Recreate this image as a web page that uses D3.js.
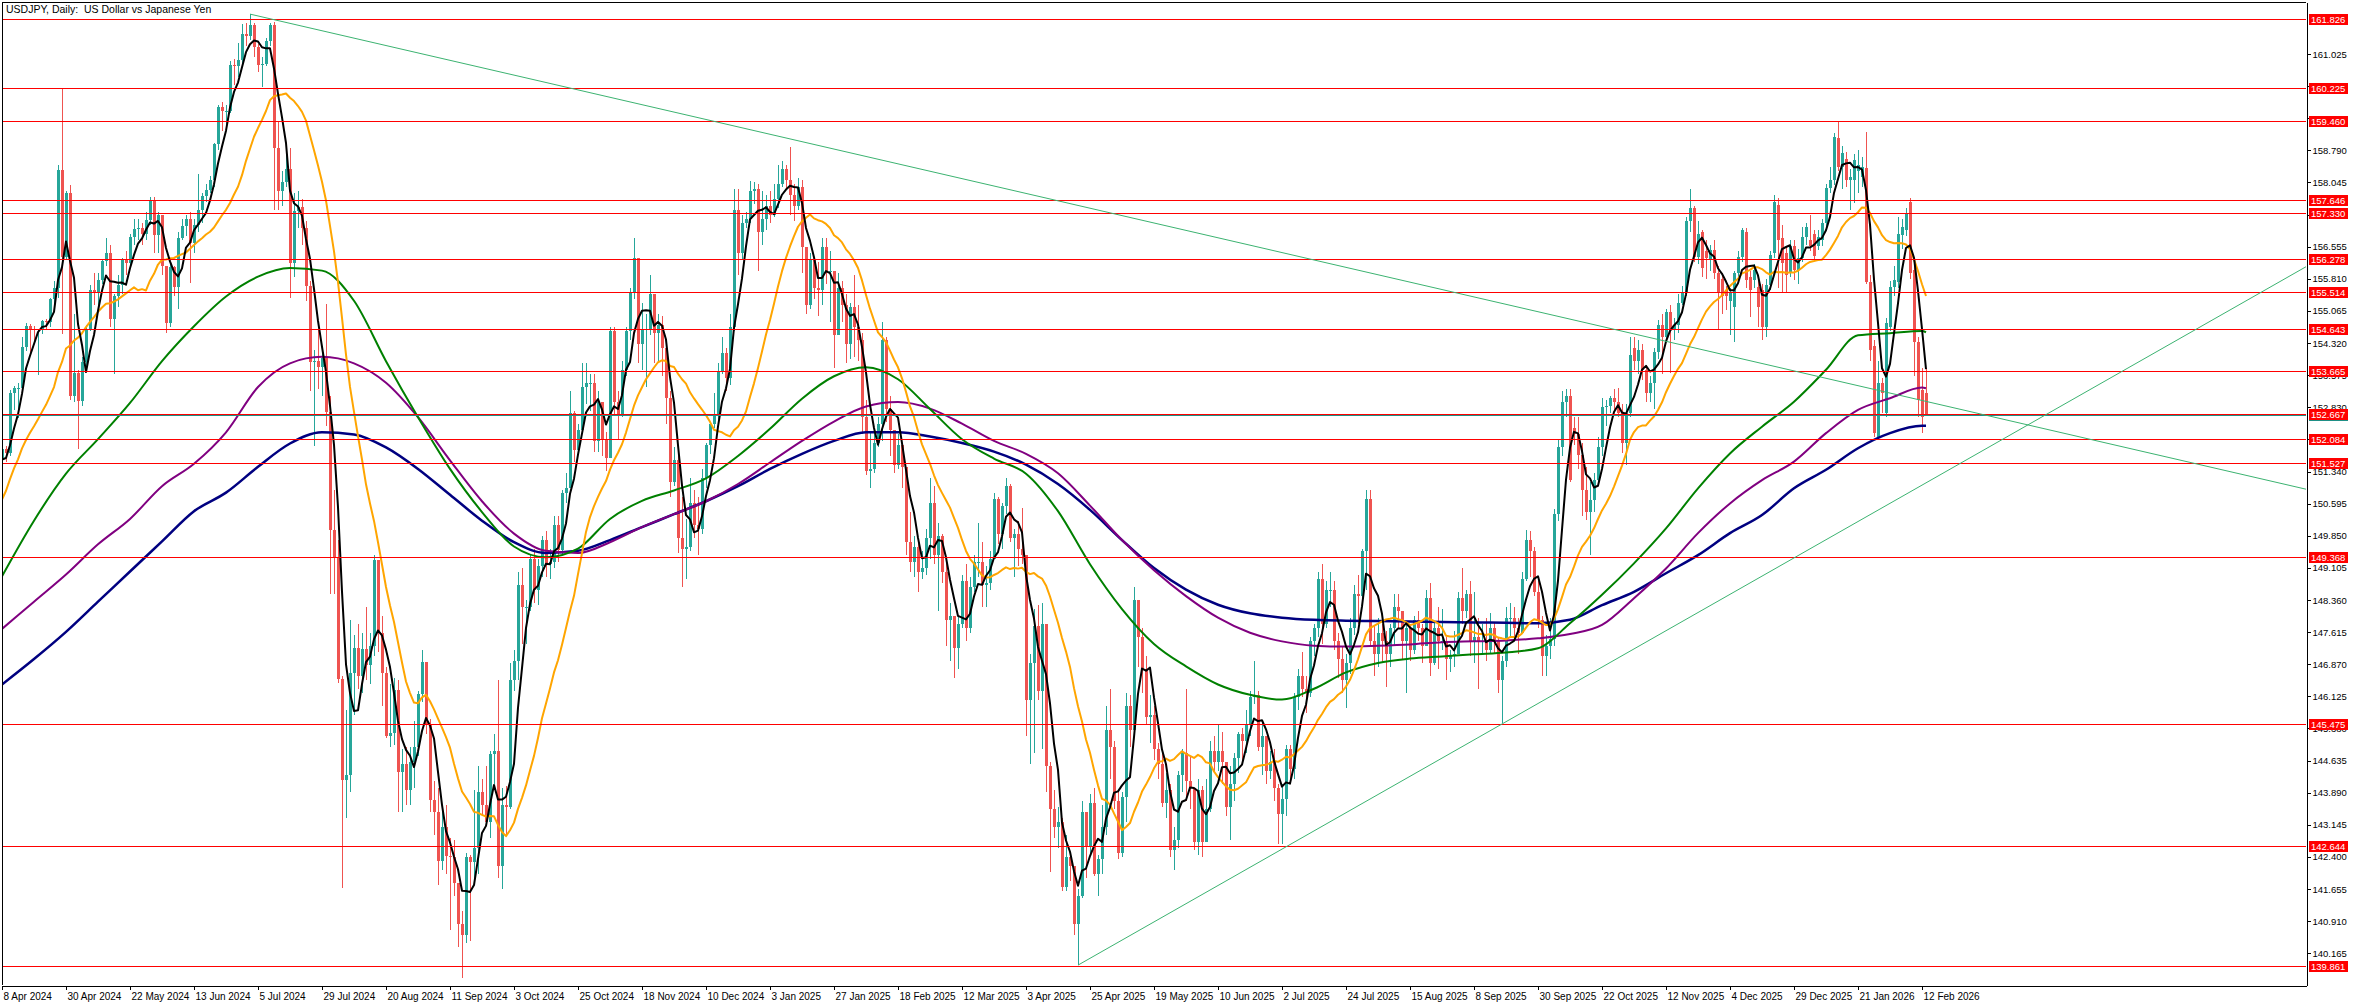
<!DOCTYPE html>
<html><head><meta charset="utf-8">
<script src="https://cdn.jsdelivr.net/npm/d3@7"></script>
<style>
body{margin:0;background:#fff;}
svg{display:block;}
text{font-family:"Liberation Sans",Arial,sans-serif;}
</style>
</head><body>
<svg id="chart" width="2359" height="1006"></svg>
<script>
// ---- data ----
const title = "USDJPY, Daily:  US Dollar vs Japanese Yen";
const preClose = [147.68,147.76,148.33,149.04,149.13,150.87,151.27,151.59,151.43,151.40,151.55,151.32,151.36,151.35,151.65,151.57,151.68,151.34,151.62];

const open = [
151.62,151.86,151.77,153.16,153.27,153.27,154.23,154.71,154.65,154.63,154.64,154.83,154.81,155.35,155.59,158.33,
156.32,157.80,153.10,153.62,152.97,153.89,154.65,155.55,155.47,155.78,156.22,156.42,154.88,155.40,155.67,156.25,
156.17,156.78,156.96,156.98,156.84,157.18,157.63,156.83,157.28,156.10,154.78,156.08,155.62,156.75,157.03,157.20,
156.65,157.05,157.40,157.72,157.87,158.10,158.93,159.80,159.70,159.70,160.78,160.75,160.88,161.48,161.45,161.70,
161.18,160.77,160.80,161.33,161.70,158.85,157.85,158.05,158.35,156.18,157.38,157.48,156.98,155.65,153.88,153.90,
153.76,153.98,152.73,149.98,149.35,146.53,144.18,144.30,146.67,147.25,146.60,147.23,146.85,147.30,149.28,147.60,
146.66,145.20,145.28,146.27,144.36,144.55,143.95,144.60,144.96,146.17,146.93,145.46,143.73,143.45,142.30,143.10,
142.42,142.40,141.80,140.85,140.60,142.40,142.28,142.60,143.90,143.60,143.22,144.78,144.85,142.20,143.60,143.55,
146.50,146.95,148.70,148.20,148.20,149.30,148.60,149.15,149.75,149.20,149.25,150.10,149.52,150.85,150.95,152.70,
151.85,152.30,153.30,153.40,153.40,152.05,152.95,152.10,151.65,154.60,152.95,152.65,153.70,154.60,155.50,156.30,
154.30,154.65,154.65,155.45,154.55,154.75,154.20,153.05,151.10,151.60,149.80,149.55,149.60,150.60,150.10,150.00,
151.20,151.95,152.45,152.65,153.65,154.10,153.50,154.70,157.40,156.40,157.10,157.20,157.85,157.90,156.90,157.20,
157.50,157.30,157.65,158.00,158.35,158.10,157.75,157.50,157.95,156.55,155.20,156.25,155.60,155.55,156.55,156.00,
156.00,154.50,155.60,155.20,154.30,155.15,154.70,154.40,152.60,151.35,151.40,152.00,152.45,154.40,152.80,152.30,
151.50,151.95,151.45,149.70,149.25,149.60,149.00,149.10,149.80,150.60,149.40,149.85,149.00,147.90,148.00,147.25,
147.80,148.80,147.70,148.65,149.25,149.25,148.70,148.75,149.30,150.70,149.90,150.55,151.00,149.80,149.90,149.55,
149.40,146.05,146.90,147.75,146.25,147.80,144.50,143.50,143.10,143.20,141.70,142.40,142.20,140.85,141.50,143.45,
142.65,143.65,142.00,142.35,143.10,145.35,144.95,143.70,142.50,143.80,145.90,145.35,148.35,147.50,146.75,145.65,
145.70,144.90,144.55,143.65,143.95,142.55,142.80,144.30,144.80,144.15,144.00,142.75,143.95,142.75,143.50,144.85,
144.60,144.85,144.60,143.55,144.10,144.70,145.25,145.10,145.45,146.10,146.15,144.95,145.20,144.40,144.60,144.00,
143.40,143.75,144.90,144.45,146.10,146.60,146.30,146.20,147.40,147.70,148.85,147.80,148.60,148.60,147.40,147.00,
146.50,146.90,147.70,148.50,148.45,149.50,150.70,147.40,147.10,147.60,147.40,147.10,147.70,148.20,148.10,147.40,
147.70,147.20,147.90,147.70,147.30,148.40,146.90,147.70,147.40,147.40,147.00,147.05,147.10,148.40,148.10,148.50,
147.40,147.50,147.40,147.40,147.20,147.70,147.40,146.50,146.95,147.95,147.95,147.70,147.60,148.85,149.75,149.50,
148.55,147.90,147.05,147.30,147.45,150.35,151.90,152.95,153.10,152.35,152.20,151.72,150.90,150.40,150.68,151.15,
151.92,152.84,152.85,153.05,152.95,152.70,152.00,152.70,154.20,153.90,154.15,153.70,153.15,153.40,154.12,154.75,
154.47,155.05,154.62,154.75,155.25,155.50,157.15,157.45,156.32,156.90,156.45,156.25,156.48,155.95,155.80,155.55,
155.30,155.16,155.94,156.32,156.90,155.86,155.78,155.63,155.55,154.70,155.66,156.40,157.52,156.75,156.40,155.94,
156.56,156.02,156.29,156.79,156.71,156.86,156.56,156.71,157.10,157.91,158.10,159.07,158.41,158.60,158.10,158.10,
158.30,158.18,158.37,155.74,154.24,152.15,153.39,152.69,154.70,155.63,155.74,156.83,156.94,157.60,156.01,154.35,
153.23,153.15];

const high = [
151.95,151.94,153.24,153.32,153.39,154.45,154.79,154.77,154.72,154.65,154.86,154.88,155.37,155.75,158.44,160.21,
157.84,157.99,155.00,153.70,154.00,154.75,155.67,155.95,155.95,156.26,156.75,156.60,155.45,155.90,156.30,156.45,
156.85,157.20,157.19,157.10,157.35,157.70,157.70,157.35,157.30,156.10,156.20,156.10,156.90,157.20,157.30,157.35,
157.20,158.25,157.80,158.00,158.20,158.95,159.85,159.90,159.85,160.87,160.90,161.28,161.72,161.75,161.95,161.75,
161.25,160.95,161.40,161.75,161.76,159.45,158.30,158.85,158.85,157.80,157.85,157.65,157.15,155.75,154.15,154.65,
154.20,155.22,153.10,150.90,149.75,146.60,145.80,147.90,147.55,147.80,147.60,148.20,147.60,149.40,149.10,148.00,
146.80,146.40,146.55,146.50,144.90,144.95,144.95,145.55,146.25,147.20,146.90,145.60,144.15,144.00,143.50,143.60,
142.85,142.80,141.80,141.15,142.50,142.45,143.95,144.50,144.20,144.50,144.85,145.25,146.50,144.00,144.05,146.90,
147.20,149.00,149.10,148.35,149.40,149.55,149.30,149.85,149.95,149.55,150.30,150.30,150.90,151.30,153.20,152.75,
152.45,153.85,153.85,153.60,153.60,153.20,152.85,152.25,154.70,154.70,153.20,153.90,154.70,155.60,156.75,156.30,
155.25,155.00,155.90,155.40,155.00,154.95,154.35,153.20,151.90,151.70,150.75,150.25,151.20,150.90,150.75,151.40,
152.00,152.50,153.15,153.85,154.45,154.20,155.00,157.90,157.90,157.30,157.35,158.08,158.05,158.00,157.85,157.75,
157.85,158.00,158.45,158.55,158.45,158.87,158.00,158.15,158.10,156.50,156.40,156.30,156.20,156.75,156.75,156.45,
155.95,155.95,155.75,155.45,155.25,155.90,155.20,154.55,153.00,152.25,152.30,152.60,154.80,154.45,153.10,152.30,
152.20,152.00,151.40,150.40,149.85,149.75,149.50,150.00,151.20,151.00,150.15,149.90,149.25,148.30,147.95,148.00,
148.95,149.20,148.90,149.40,150.15,149.70,149.15,149.50,150.85,150.75,150.60,151.20,151.05,150.00,150.20,150.50,
149.30,147.10,148.15,148.25,148.30,147.80,144.60,143.95,143.55,143.30,142.90,142.45,142.10,141.65,143.70,143.25,
143.85,144.00,142.45,143.60,145.90,146.30,145.10,143.90,143.90,146.20,146.15,148.65,148.30,147.70,147.05,146.15,
145.90,145.05,144.90,144.35,144.10,143.10,144.40,144.90,146.30,144.75,143.95,144.20,144.05,144.20,145.10,145.20,
145.45,145.30,144.60,144.50,144.80,145.30,145.40,145.80,146.25,146.95,146.25,145.50,145.20,144.85,144.90,144.10,
144.10,145.00,145.00,146.20,146.75,147.15,146.60,147.50,147.80,149.00,149.20,148.80,149.00,148.80,147.60,147.30,
147.10,147.95,148.70,148.95,149.55,150.90,150.90,147.75,147.95,147.80,147.65,147.80,148.50,148.50,148.10,147.80,
147.75,148.00,148.10,147.80,148.60,148.75,147.85,148.20,148.15,147.50,147.20,147.65,148.55,149.10,148.60,148.80,
148.55,147.95,147.80,147.95,148.05,147.85,147.50,147.05,148.20,148.30,148.20,147.95,149.00,149.98,149.95,149.60,
148.80,148.00,147.55,147.95,150.47,152.10,153.20,153.25,153.25,152.60,152.60,152.00,151.45,151.10,151.30,152.15,
153.05,153.00,153.10,153.25,153.27,152.90,152.90,154.45,154.45,154.40,154.30,153.80,153.55,154.20,154.85,155.00,
155.10,155.20,154.90,155.45,155.65,157.25,157.90,157.50,157.15,156.95,156.70,156.60,156.70,156.10,155.95,155.65,
155.60,156.00,156.45,157.00,157.00,156.00,156.15,155.75,155.70,155.80,156.45,157.75,157.68,157.06,156.56,156.70,
156.70,156.50,157.02,157.10,157.29,156.95,156.94,157.20,158.00,158.40,159.19,159.46,158.90,158.75,158.35,158.70,
158.80,158.64,159.22,155.90,154.40,153.90,153.50,154.90,155.75,156.10,157.25,157.20,157.45,157.68,156.10,154.45,
153.75,153.75];

const low = [
151.60,151.56,151.69,152.76,152.59,153.20,154.13,154.12,154.29,153.59,154.52,154.62,154.69,155.10,155.37,154.54,
156.24,153.00,152.95,151.86,152.85,153.75,154.60,155.20,155.20,155.70,156.10,154.70,153.60,155.15,155.45,155.90,
156.05,156.60,156.70,156.60,156.70,157.05,156.40,156.40,155.90,154.55,154.70,155.40,155.10,156.70,156.80,155.72,
156.40,156.90,157.10,157.60,157.80,157.95,158.80,159.25,159.40,159.65,160.30,160.50,160.80,161.20,161.35,160.95,
160.60,160.25,160.75,161.20,157.40,157.40,157.50,157.95,155.37,155.85,157.00,156.60,155.30,153.20,151.94,153.25,
153.10,152.40,148.50,148.50,146.43,141.68,143.30,143.90,145.70,146.30,146.20,146.50,146.40,147.05,147.15,145.90,
145.15,144.95,145.00,143.45,143.45,143.60,143.60,144.00,144.75,146.00,145.25,143.45,142.90,141.75,142.10,142.00,
140.70,141.50,140.30,139.58,140.40,140.45,141.80,142.00,143.35,143.20,142.85,144.10,141.90,141.65,142.90,143.50,
146.25,146.50,147.35,147.35,148.10,148.30,148.25,148.90,148.90,148.85,149.10,149.25,149.40,150.60,150.95,151.55,
151.75,152.80,152.90,152.75,151.80,151.80,151.70,151.35,151.75,152.65,152.10,152.60,153.55,154.40,155.35,153.85,
153.70,153.30,154.50,153.85,153.90,153.55,152.45,150.75,151.00,149.45,148.65,148.85,149.50,149.80,149.40,149.90,
150.95,151.75,152.35,152.50,153.60,153.20,153.35,154.60,155.90,156.25,157.00,157.10,157.55,156.00,156.60,156.95,
157.10,157.25,157.45,157.95,157.90,157.30,157.15,157.40,155.95,155.00,155.10,155.35,154.95,155.20,155.70,154.80,
153.75,154.50,154.80,153.85,153.95,154.00,153.90,152.20,151.25,150.95,151.30,151.90,152.05,152.50,151.70,151.30,
151.40,150.95,149.40,149.00,148.90,148.55,148.85,148.95,149.30,149.20,148.10,148.75,147.30,146.95,146.55,146.75,
147.70,147.40,147.60,148.55,148.90,148.20,148.20,148.60,149.30,149.65,149.55,150.35,149.70,148.90,149.15,149.20,
145.20,144.55,144.80,146.05,144.90,143.90,142.05,142.85,142.60,141.60,141.60,141.85,140.60,139.89,141.45,141.90,
142.50,141.95,141.50,142.00,142.90,144.20,143.50,142.35,142.40,143.20,144.95,145.75,146.80,146.20,145.45,145.05,
144.65,144.20,143.55,143.30,142.40,142.10,142.60,143.90,143.70,143.50,142.55,142.45,142.40,142.75,143.45,144.35,
144.40,144.10,143.35,142.80,143.70,144.35,144.60,144.80,145.20,145.95,144.85,144.30,144.10,144.20,143.70,142.70,
142.70,143.35,144.20,144.20,145.80,146.10,145.75,146.10,147.05,147.50,147.35,147.70,148.20,147.20,146.55,146.20,
145.85,146.65,147.55,147.80,148.20,148.60,147.30,146.60,146.80,146.90,146.35,146.80,147.30,147.70,147.00,146.20,
146.95,147.10,147.40,146.90,147.30,146.60,146.85,146.75,147.20,146.50,146.70,146.80,147.10,147.80,147.95,147.05,
146.90,146.30,147.10,146.95,147.10,147.10,146.20,145.50,146.80,147.50,147.45,147.10,147.60,148.80,148.90,148.45,
147.70,146.60,146.60,147.00,147.30,150.20,151.70,152.60,151.10,151.95,151.40,150.30,150.22,149.40,150.40,151.00,
151.70,152.40,152.70,152.75,152.60,151.77,151.50,152.60,153.70,153.60,153.46,152.95,152.95,152.80,153.95,153.60,
154.40,153.62,154.40,154.55,155.20,155.40,156.90,156.20,156.15,155.85,155.80,156.00,155.80,154.65,155.00,155.09,
154.51,154.35,155.80,156.20,155.60,154.93,155.60,154.70,154.39,154.47,155.55,156.30,155.60,155.51,155.50,155.85,
155.78,155.70,156.20,156.60,156.45,156.25,156.48,156.56,157.00,157.80,157.98,158.30,157.90,157.95,157.41,157.56,
157.80,157.95,155.70,153.90,152.15,152.10,152.69,152.60,154.60,155.40,155.60,156.50,156.80,155.80,153.55,152.61,
152.23,152.62];

const close = [
151.86,151.77,153.16,153.27,153.27,154.23,154.71,154.65,154.63,154.64,154.83,154.81,155.35,155.59,158.33,156.32,
157.80,153.10,153.62,152.97,153.89,154.65,155.55,155.47,155.78,156.22,156.42,154.88,155.40,155.67,156.25,156.17,
156.78,156.96,156.98,156.84,157.18,157.63,156.83,157.28,156.10,154.78,156.08,155.62,156.75,157.03,157.20,156.65,
157.05,157.40,157.72,157.87,158.10,158.93,159.80,159.70,159.70,160.78,160.75,160.88,161.48,161.45,161.70,161.18,
160.77,160.80,161.33,161.70,158.85,157.85,158.05,158.35,156.18,157.38,157.48,156.98,155.65,153.88,153.90,153.76,
153.98,152.73,149.98,149.35,146.53,144.18,144.30,146.67,147.25,146.60,147.23,146.85,147.30,149.28,147.60,146.66,
145.20,145.28,146.27,144.36,144.55,143.95,144.60,144.96,146.17,146.93,145.46,143.73,143.45,142.30,143.10,142.42,
142.40,141.80,140.85,140.60,142.40,142.28,142.60,143.90,143.60,143.22,144.78,144.85,142.20,143.60,143.55,146.50,
146.95,148.70,148.20,148.20,149.30,148.60,149.15,149.75,149.20,149.25,150.10,149.52,150.85,150.95,152.70,151.85,
152.30,153.30,153.40,153.40,152.05,152.95,152.10,151.65,154.60,152.95,152.65,153.70,154.60,155.50,156.30,154.30,
154.65,154.65,155.45,154.55,154.75,154.20,153.05,151.10,151.60,149.80,149.55,149.60,150.60,150.10,150.00,151.20,
151.95,152.45,152.65,153.65,154.10,153.50,154.70,157.40,156.40,157.10,157.20,157.85,157.90,156.90,157.20,157.50,
157.30,157.65,158.00,158.35,158.10,157.75,157.50,157.95,156.55,155.20,156.25,155.60,155.55,156.55,156.00,156.00,
154.50,155.60,155.20,154.30,155.15,154.70,154.40,152.60,151.35,151.40,152.00,152.45,154.40,152.80,152.30,151.50,
151.95,151.45,149.70,149.25,149.60,149.00,149.10,149.80,150.60,149.40,149.85,149.00,147.90,148.00,147.25,147.80,
148.80,147.70,148.65,149.25,149.25,148.70,148.75,149.30,150.70,149.90,150.55,151.00,149.80,149.90,149.55,149.40,
146.05,146.90,147.75,146.25,147.80,144.50,143.50,143.10,143.20,141.70,142.40,142.20,140.85,141.50,143.45,142.65,
143.65,142.00,142.35,143.10,145.35,144.95,143.70,142.50,143.80,145.90,145.35,148.35,147.50,146.75,145.65,145.70,
144.90,144.55,143.65,143.95,142.55,142.80,144.30,144.80,144.15,144.00,142.75,143.95,142.75,143.50,144.85,144.60,
144.85,144.60,143.55,144.10,144.70,145.25,145.10,145.45,146.10,146.15,144.95,145.20,144.40,144.60,144.00,143.40,
143.75,144.90,144.45,146.10,146.60,146.30,146.20,147.40,147.70,148.85,147.80,148.60,148.60,147.40,147.00,146.50,
146.90,147.70,148.50,148.45,149.50,150.70,147.40,147.10,147.60,147.40,147.10,147.70,148.20,148.10,147.40,147.70,
147.20,147.90,147.70,147.30,148.40,146.90,147.70,147.40,147.40,147.00,147.05,147.10,148.40,148.10,148.50,147.40,
147.50,147.40,147.40,147.20,147.70,147.40,146.50,146.95,147.95,147.95,147.70,147.60,148.85,149.75,149.50,148.55,
147.90,147.05,147.30,147.45,150.35,151.90,152.95,153.10,151.15,152.20,151.72,150.90,150.40,150.68,151.15,151.92,
152.84,152.85,153.05,152.95,152.70,152.00,152.70,154.05,153.90,154.15,153.70,153.15,153.40,154.12,154.75,154.47,
155.05,154.62,154.75,155.25,155.50,157.15,157.45,156.32,156.85,156.05,156.30,156.48,155.95,155.50,155.40,155.40,
155.47,155.94,156.32,156.94,155.78,155.55,156.01,155.16,154.70,155.66,156.36,157.60,156.71,156.17,155.90,156.56,
156.02,156.29,156.79,157.02,156.56,156.33,156.79,157.10,157.91,158.10,159.11,158.41,158.72,158.10,158.18,158.57,
158.45,158.41,155.74,154.16,152.23,153.39,153.15,154.78,155.63,155.78,156.86,157.02,157.33,155.94,154.35,153.00,
152.61,152.667];

const tickLabels = ["8 Apr 2024","30 Apr 2024","22 May 2024","13 Jun 2024","5 Jul 2024","29 Jul 2024","20 Aug 2024","11 Sep 2024","3 Oct 2024","25 Oct 2024","18 Nov 2024","10 Dec 2024","3 Jan 2025","27 Jan 2025","18 Feb 2025","12 Mar 2025","3 Apr 2025","25 Apr 2025","19 May 2025","10 Jun 2025","2 Jul 2025","24 Jul 2025","15 Aug 2025","8 Sep 2025","30 Sep 2025","22 Oct 2025","12 Nov 2025","4 Dec 2025","29 Dec 2025","21 Jan 2026","12 Feb 2026"];
const tickBars = [0,16,32,48,64,80,96,112,128,144,160,176,192,208,224,240,256,272,288,304,320,336,352,368,384,400,416,432,448,464,480];

const priceTicks = [140.165,140.910,141.655,142.400,143.145,143.890,144.635,145.380,146.125,146.870,147.615,148.360,149.105,149.850,150.595,151.340,152.085,152.830,153.575,154.320,155.065,155.810,156.555,157.300,158.045,158.790,159.535,160.280,161.025];

const levels = [161.826,160.225,159.460,157.646,157.330,156.278,155.514,154.643,153.665,152.667,152.084,151.527,149.368,145.475,142.644,139.861];
const bidPrice = 152.667;

// slow moving averages read at every 8th bar
const maBars = [0,8,16,24,32,40,48,56,64,72,80,88,96,104,112,120,128,136,144,152,160,168,176,184,192,200,208,216,224,232,240,248,256,264,272,280,288,296,304,312,320,328,336,344,352,360,368,376,384,392,400,408,416,424,432,440,448,456,464,472,480,481];
const maGreen = [148.91,150.20,151.29,152.09,152.93,153.90,154.71,155.40,155.86,156.06,156.00,155.30,153.90,152.60,151.40,150.40,149.60,149.35,149.55,150.24,150.66,150.90,151.18,151.70,152.33,153.03,153.55,153.76,153.48,152.79,152.09,151.64,151.29,150.42,149.19,148.15,147.34,146.82,146.40,146.16,146.05,146.30,146.68,146.90,147.00,147.05,147.10,147.14,147.24,147.82,148.48,149.21,150.02,150.95,151.76,152.38,152.96,153.70,154.50,154.55,154.60,154.57];
const maPurple = [147.69,148.32,148.95,149.65,150.24,151.00,151.52,152.25,153.30,153.85,154.00,153.85,153.40,152.60,151.60,150.65,149.90,149.50,149.45,149.70,150.05,150.35,150.65,151.05,151.55,152.05,152.50,152.85,152.95,152.80,152.45,152.05,151.75,151.30,150.55,149.75,149.05,148.45,147.95,147.60,147.40,147.30,147.28,147.30,147.33,147.38,147.40,147.42,147.47,147.57,147.78,148.40,149.09,149.91,150.60,151.14,151.57,152.23,152.77,153.04,153.29,153.27];
const maNavy = [146.40,146.99,147.62,148.32,149.02,149.72,150.42,150.85,151.45,151.99,152.25,152.20,151.90,151.40,150.80,150.20,149.70,149.45,149.50,149.75,150.05,150.35,150.65,151.00,151.40,151.75,152.05,152.25,152.25,152.15,152.00,151.80,151.50,151.05,150.45,149.75,149.10,148.60,148.25,148.05,147.95,147.90,147.88,147.87,147.86,147.85,147.84,147.83,147.82,147.90,148.24,148.55,148.98,149.40,149.91,150.33,150.95,151.38,151.88,152.23,152.40,152.40];

const trendDown = {bars:[62,576], prices:[161.95,150.93]};
const trendUp = {bars:[269,576], prices:[139.89,156.09]};

// ---- chart ----
const svg = d3.select("#chart");
const L = 2, T = 2, R = 2306, B = 985;
const x = d3.scaleLinear().domain([0,576]).range([2,2306]);
const y = d3.scaleLinear().domain([139.429,162.231]).range([B,T]);
const px = v => Math.round(v);

svg.append("defs").append("clipPath").attr("id","plot")
  .append("rect").attr("x",L).attr("y",T).attr("width",R-L).attr("height",B-T);

const plot = svg.append("g").attr("clip-path","url(#plot)");

// candles
const idx = d3.range(close.length);
const up = i => close[i] >= open[i];
const bull = "#26a69a", bear = "#ef5350";
const cg = plot.append("g");
cg.selectAll("line.w").data(idx).join("line")
  .attr("x1", i => px(x(i)) + 0.5).attr("x2", i => px(x(i)) + 0.5)
  .attr("y1", i => y(high[i])).attr("y2", i => y(low[i]))
  .attr("stroke", i => up(i) ? bull : bear).attr("stroke-width",1)
  .attr("shape-rendering","crispEdges");
cg.selectAll("rect.b").data(idx).join("rect")
  .attr("x", i => px(x(i)) - 1).attr("width", 3)
  .attr("y", i => y(Math.max(open[i],close[i])))
  .attr("height", i => Math.max(1, Math.abs(y(open[i]) - y(close[i]))))
  .attr("fill", i => up(i) ? bull : bear)
  .attr("shape-rendering","crispEdges");

// moving averages
function sma(n){
  const all = preClose.concat(close), off = preClose.length;
  return close.map((c,i) => {
    const j = i + off;
    if (j - n + 1 < 0) return null;
    let s = 0; for (let k = j - n + 1; k <= j; k++) s += all[k];
    return s / n;
  });
}
const slowLine = d3.line().curve(d3.curveMonotoneX).x((d,k) => x(maBars[k])).y(d => y(d));
[[maNavy,"#000080",2.5],[maPurple,"#800080",2],[maGreen,"#008000",2]].forEach(([arr,col,w]) => {
  plot.append("path").attr("d", slowLine(arr)).attr("fill","none").attr("stroke",col).attr("stroke-width",w);
});
const fastLine = d3.line().defined(d => d != null).x((d,i) => x(i)).y(d => y(d));
plot.append("path").attr("d", fastLine(sma(20))).attr("fill","none").attr("stroke","#ffa500").attr("stroke-width",2).attr("stroke-linejoin","round");
plot.append("path").attr("d", fastLine(sma(5))).attr("fill","none").attr("stroke","#000000").attr("stroke-width",2).attr("stroke-linejoin","round");

// horizontal levels
plot.selectAll("line.lv").data(levels).join("line")
  .attr("x1", L).attr("x2", R)
  .attr("y1", d => px(y(d)) + 0.5).attr("y2", d => px(y(d)) + 0.5)
  .attr("stroke", "#ff0000").attr("stroke-width", 1).attr("shape-rendering","crispEdges");
plot.append("line").attr("x1",L).attr("x2",R)
  .attr("y1", px(y(bidPrice)) + 1.5).attr("y2", px(y(bidPrice)) + 1.5)
  .attr("stroke","#1f8f86").attr("stroke-width",1).attr("shape-rendering","crispEdges");

// trend lines
[trendDown, trendUp].forEach(t => {
  plot.append("line")
    .attr("x1", x(t.bars[0])).attr("y1", y(t.prices[0]))
    .attr("x2", x(t.bars[1])).attr("y2", y(t.prices[1]))
    .attr("stroke","#3cb371").attr("stroke-width",1);
});

// frame
svg.append("line").attr("x1",L+0.5).attr("x2",L+0.5).attr("y1",T).attr("y2",B).attr("stroke","#000").attr("shape-rendering","crispEdges");
svg.append("line").attr("x1",L).attr("x2",R).attr("y1",T+0.5).attr("y2",T+0.5).attr("stroke","#000").attr("shape-rendering","crispEdges");

// right axis
const yAxis = d3.axisRight(y).tickValues(priceTicks).tickFormat(d3.format(".3f")).tickSize(4).tickSizeOuter(0);
const ya = svg.append("g").attr("transform",`translate(${R+0.5},0)`).call(yAxis);
ya.selectAll("text").attr("font-size",9.5).attr("fill","#000").attr("x",6);
ya.selectAll("line,path").attr("stroke","#000").attr("shape-rendering","crispEdges");

// bottom axis
const xAxis = d3.axisBottom(x).tickValues(tickBars).tickFormat((d,k) => tickLabels[k]).tickSize(4).tickSizeOuter(0);
const xa = svg.append("g").attr("transform",`translate(0,${B+0.5})`).call(xAxis);
xa.selectAll("text").attr("font-size",10).attr("fill","#000").attr("text-anchor","start").attr("x",1).attr("y",7);
xa.selectAll("line,path").attr("stroke","#000").attr("shape-rendering","crispEdges");

// level labels
const lg = svg.append("g");
levels.forEach(p => {
  const yy = px(y(p));
  lg.append("rect").attr("x",R+3).attr("y",yy-5).attr("width",39).attr("height",11).attr("fill","#ff0000");
  lg.append("text").attr("x",R+5).attr("y",yy+4).attr("font-size",9.5).attr("fill","#fff").text(p.toFixed(3));
});
lg.append("line").attr("x1",R+3).attr("x2",R+42).attr("y1",px(y(bidPrice))+6.5).attr("y2",px(y(bidPrice))+6.5)
  .attr("stroke","#1f8f86").attr("stroke-width",1);

// title
svg.append("text").attr("x",6).attr("y",13).attr("font-size",10.5).attr("fill","#000")
  .style("white-space","pre").text(title);
</script>
</body></html>
